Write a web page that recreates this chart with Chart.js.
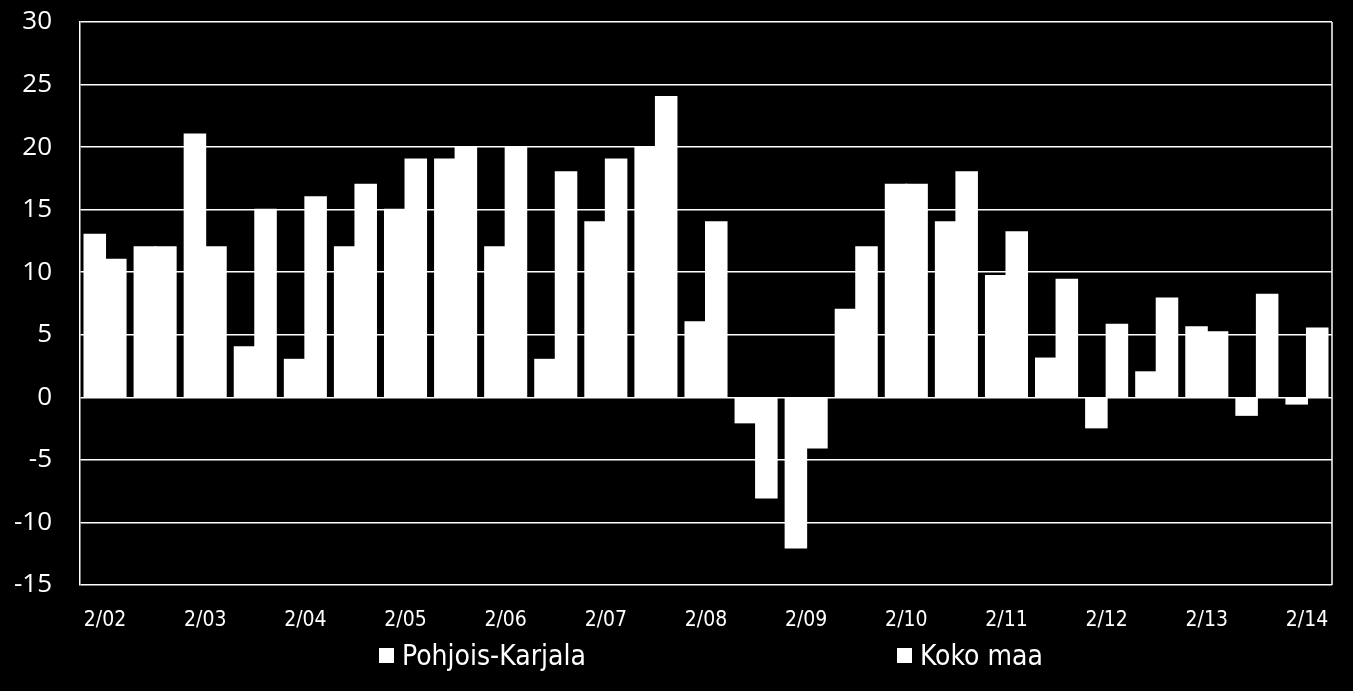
<!DOCTYPE html>
<html>
<head>
<meta charset="utf-8">
<script src="https://cdn.jsdelivr.net/npm/chart.js@4"></script>
<style>
  body { margin: 0; background: #000; }
  #wrap { position: relative; width: 1353px; height: 691px; }
  #legend { position: absolute; left: 0; top: 0; width: 100%; height: 100%; pointer-events: none; }
  .item { position: absolute; top: 639px; display: flex; align-items: center; color: #fff;
          font-family: "DejaVu Sans Condensed", "DejaVu Sans", sans-serif; font-size: 28px; }
  .box { width: 15px; height: 15px; margin-right: 8px; }
</style>
</head>
<body>
<div id="wrap">
  <canvas id="chart" width="1353" height="691"></canvas>
  <div id="legend"></div>
</div>
<script>
// --- Data ---
const periods = ["2/02", "8/02", "2/03", "8/03", "2/04", "8/04", "2/05", "8/05", "2/06", "8/06",
  "2/07", "8/07", "2/08", "8/08", "2/09", "8/09", "2/10", "8/10", "2/11", "8/11",
  "2/12", "8/12", "2/13", "8/13", "2/14"];
const seriesNames = ["Pohjois-Karjala", "Koko maa"];
const pohjoisKarjala = [13, 12, 21, 4, 3, 12, 15, 19, 12, 3, 14, 20, 6, -2, -12, 7, 17, 14, 9.7, 3.1, -2.4, 2, 5.6, -1.4, -0.5];
const kokoMaa = [11, 12, 12, 15, 16, 17, 19, 20, 20, 18, 19, 24, 14, -8, -4, 12, 17, 18, 13.2, 9.4, 5.8, 7.9, 5.2, 8.2, 5.5];

const FONT = "'DejaVu Sans Condensed', 'DejaVu Sans', sans-serif";

// draws the right-hand frame line of the plot area
const frame = {
  id: "frame",
  afterDraw(chart) {
    const { ctx, chartArea: a } = chart;
    ctx.save();
    ctx.strokeStyle = "#fff";
    ctx.lineWidth = 1.5;
    ctx.beginPath();
    ctx.moveTo(a.right, a.top);
    ctx.lineTo(a.right, a.bottom);
    ctx.stroke();
    ctx.restore();
  },
};

const chart = new Chart(document.getElementById("chart"), {
  type: "bar",
  data: {
    labels: periods,
    datasets: [
      { label: seriesNames[0], data: pohjoisKarjala, backgroundColor: "#fff" },
      { label: seriesNames[1], data: kokoMaa, backgroundColor: "#fff" },
    ],
  },
  options: {
    responsive: false,
    animation: false,
    categoryPercentage: 0.82,
    barPercentage: 1.0,
    inflateAmount: 1,
    layout: { padding: { top: 22, right: 21, left: 0, bottom: 0 } },
    plugins: { legend: { display: false }, tooltip: { enabled: false } },
    scales: {
      x: {
        grid: { display: false },
        border: { display: false },
        ticks: {
          color: "#fff",
          font: { family: FONT, size: 21 },
          autoSkip: false,
          maxRotation: 0,
          padding: 15,
          callback: (v, i) => (i % 2 === 0 ? periods[i] : ""),
        },
        afterFit: (s) => { s.height = 106; },
      },
      y: {
        min: -15,
        max: 30,
        grid: { color: "#fff", lineWidth: 1.5, drawTicks: false },
        border: { display: true, color: "#fff", width: 1.5 },
        ticks: {
          stepSize: 5,
          color: "#fff",
          padding: 28,
          font: { family: "'Open Sans', sans-serif", size: 26 },
        },
        afterFit: (s) => { s.width = 80; s.paddingTop = 0; s.paddingBottom = 0; },
      },
    },
  },
  plugins: [frame],
});

// --- Legend (HTML) ---
const legendLeft = [379, 897];
const legend = document.getElementById("legend");
chart.data.datasets.forEach((ds, i) => {
  const item = document.createElement("div");
  item.className = "item";
  item.style.left = legendLeft[i] + "px";
  item.innerHTML = '<span class="box" style="background:' + ds.backgroundColor + '"></span>' + ds.label;
  legend.appendChild(item);
});
</script>
</body>
</html>
